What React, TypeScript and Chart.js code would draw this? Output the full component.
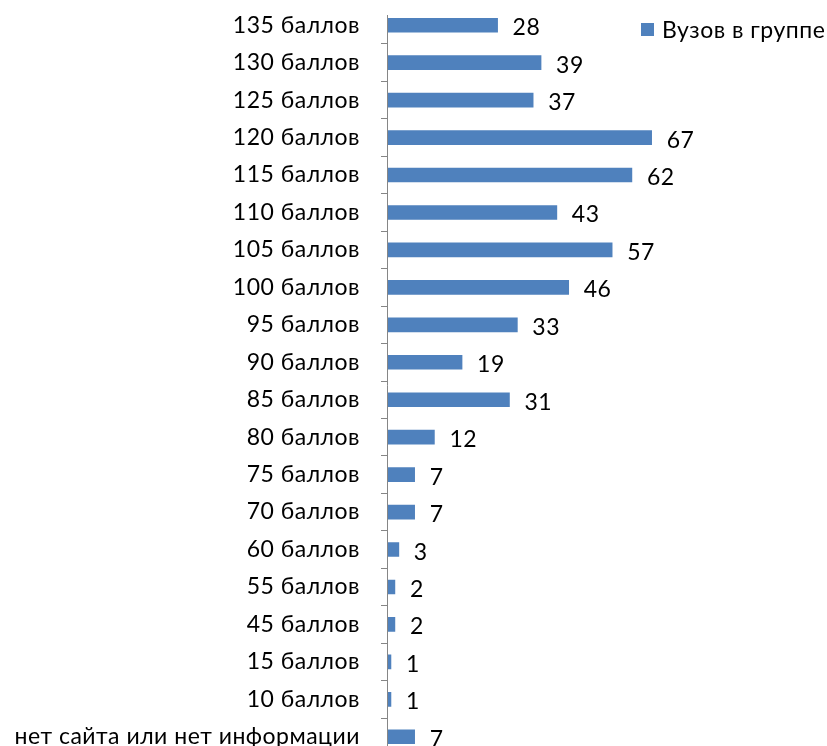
import React, { useEffect, useRef } from "react";
import { Chart, registerables } from "chart.js";

Chart.register(...registerables);

const categories: string[] = [
  "135 баллов",
  "130 баллов",
  "125 баллов",
  "120 баллов",
  "115 баллов",
  "110 баллов",
  "105 баллов",
  "100 баллов",
  "95 баллов",
  "90 баллов",
  "85 баллов",
  "80 баллов",
  "75 баллов",
  "70 баллов",
  "60 баллов",
  "55 баллов",
  "45 баллов",
  "15 баллов",
  "10 баллов",
  "нет сайта или нет информации",
];

const values: number[] = [28, 39, 37, 67, 62, 43, 57, 46, 33, 19, 31, 12, 7, 7, 3, 2, 2, 1, 1, 7];

const seriesName = "Вузов в группе";

const FONT_FAMILY = "Lato, 'Open Sans', sans-serif";
const FONT_SIZE = 23;
const BAR_COLOR = "#4F81BD";
const AXIS_COLOR = "#868686";

const overlayPlugin = {
  id: "overlay",
  beforeDraw(chart: any) {
    chart.ctx.letterSpacing = "0.5px";
  },
  afterDatasetsDraw(chart: any) {
    const ctx = chart.ctx;
    const area = chart.chartArea;
    ctx.save();
    // axis line
    ctx.strokeStyle = AXIS_COLOR;
    ctx.lineWidth = 1;
    ctx.beginPath();
    ctx.moveTo(area.left + 0.5, 15);
    ctx.lineTo(area.left + 0.5, area.bottom);
    ctx.stroke();

    // data labels
    const meta = chart.getDatasetMeta(0);
    ctx.fillStyle = "#000";
    ctx.font = `${FONT_SIZE}px ${FONT_FAMILY}`;
    ctx.textAlign = "left";
    ctx.textBaseline = "alphabetic";
    meta.data.forEach((el: any, i: number) => {
      const v = chart.data.datasets[0].data[i];
      ctx.fillText(String(v), el.x + 15, el.y + 10);
    });

    // legend
    ctx.fillStyle = BAR_COLOR;
    ctx.fillRect(641, 23, 13, 13);
    ctx.fillStyle = "#000";
    ctx.fillText(seriesName, 662, 38);
    ctx.restore();
  },
};

export default function App() {
  const canvasRef = useRef<HTMLCanvasElement | null>(null);

  useEffect(() => {
    const canvas = canvasRef.current;
    if (!canvas) return;
    const chart = new Chart(canvas, {
      type: "bar",
      data: {
        labels: categories,
        datasets: [
          {
            label: seriesName,
            data: values,
            backgroundColor: BAR_COLOR,
            borderWidth: 0,
            barThickness: 14,
          },
        ],
      },
      options: {
        indexAxis: "y",
        responsive: false,
        animation: false,
        devicePixelRatio: 1,
        layout: { padding: { top: 6.5, bottom: 6.5, left: 0, right: 45 } },
        plugins: {
          legend: { display: false },
          tooltip: { enabled: false },
        },
        scales: {
          x: { display: false, min: 0, max: 100 },
          y: {
            type: "category",
            afterFit: (scale: any) => {
              scale.width = 387;
              scale.paddingTop = 0;
              scale.paddingBottom = 0;
            },
            border: { display: false },
            grid: {
              offset: true,
              drawOnChartArea: false,
              drawTicks: true,
              tickLength: 6,
              color: (c: any) => (c.index === 0 ? "rgba(0,0,0,0)" : AXIS_COLOR),
            },
            ticks: {
              color: "#000",
              padding: 21,
              autoSkip: false,
              font: { family: FONT_FAMILY, size: FONT_SIZE },
            },
          },
        },
      },
      plugins: [overlayPlugin],
    } as any);
    return () => chart.destroy();
  }, []);

  return (
    <div
      style={{
        position: "absolute",
        left: 0,
        top: 0,
        width: 827,
        height: 746,
        overflow: "hidden",
        background: "#fff",
      }}
    >
      <canvas ref={canvasRef} width={827} height={762} style={{ display: "block" }} />
    </div>
  );
}
